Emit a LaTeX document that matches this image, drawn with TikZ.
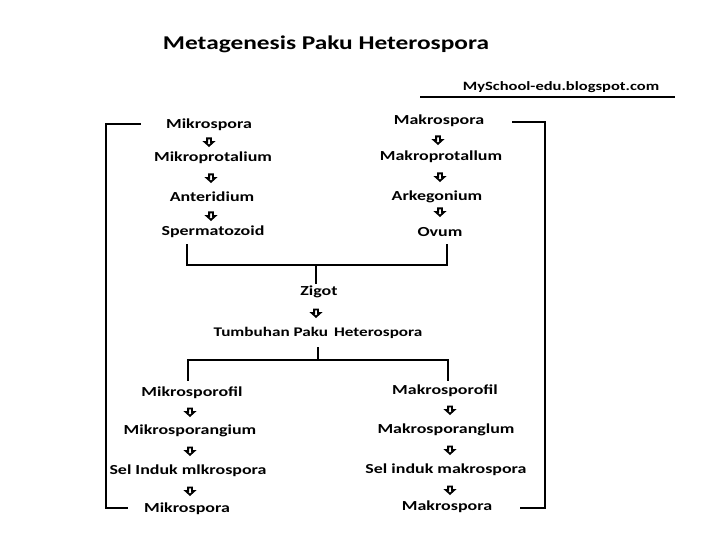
\documentclass[tikz,border=0pt]{standalone}
\usepackage{fontspec}
\setmainfont{Carlito}[FakeStretch=1.3]
\begin{document}
\begin{tikzpicture}[x=1pt,y=-1pt,
  lbl/.style={font=\bfseries\fontsize{13.8}{16}\selectfont, inner sep=0pt, text=black},
  ttl/.style={font=\bfseries\fontsize{19.5}{22}\selectfont, inner sep=0pt},
  web/.style={font=\bfseries\fontsize{12.7}{15}\selectfont, inner sep=0pt},
  frame/.style={line width=2.8pt, line cap=rect},
  link/.style={line width=2.4pt, line cap=rect},
  darrow/.pic={\draw[line width=1.8pt, fill=white, line join=miter]
     (-1.9,-3.6) -- (1.9,-3.6) -- (1.9,0) -- (4.2,0) -- (0,3.8) -- (-4.2,0) -- (-1.9,0) -- cycle;}
]
\useasboundingbox (0,0) rectangle (720,540);
\fill[white] (0,0) rectangle (720,540);

\node[ttl] (title) at (326,44) {Metagenesis Paku Heterospora};
\node[web] (site) at (561,87) {MySchool-edu.blogspot.com};
\coordinate (ul1) at (420,97);
\coordinate (ul2) at (675,97);
\draw[line width=1.8pt] (ul1) -- (ul2);

% upper left column
\node[lbl] (a1) at (209,125) {Mikrospora};
\pic (pa1) at (209,142) {darrow};
\node[lbl] (a2) at (213,158) {Mikroprotalium};
\pic (pa2) at (211,178) {darrow};
\node[lbl] (a3) at (212,197) {Anteridium};
\pic (pa3) at (211,216) {darrow};
\node[lbl] (a4) at (213,232) {Spermatozoid};

% upper right column
\node[lbl] (b1) at (439,121) {Makrospora};
\pic (pb1) at (438,140) {darrow};
\node[lbl] (b2) at (441,157) {Makroprotallum};
\pic (pb2) at (440,177) {darrow};
\node[lbl] (b3) at (437,197) {Arkegonium};
\pic (pb3) at (440,212) {darrow};
\node[lbl] (b4) at (440,232) {Ovum};

% centre
\node[lbl] (z) at (319,292) {Zigot};
\pic (pz) at (316,313) {darrow};
\node[lbl, font=\bfseries\fontsize{13.2}{15}\selectfont] (t) at (318,333) {Tumbuhan Paku\hspace{0.45em}Heterospora};

% lower left column
\node[lbl] (c1) at (192,393) {Mikrosporofil};
\pic (pc1) at (190,412) {darrow};
\node[lbl] (c2) at (190,431) {Mikrosporangium};
\pic (pc2) at (190,451) {darrow};
\node[lbl] (c3) at (188,471) {Sel Induk mlkrospora};
\pic (pc3) at (190,491) {darrow};
\node[lbl] (c4) at (187,509) {Mikrospora};

% lower right column
\node[lbl] (d1) at (445,391) {Makrosporofil};
\pic (pd1) at (450,410) {darrow};
\node[lbl] (d2) at (446,430) {Makrosporanglum};
\pic (pd2) at (450,450) {darrow};
\node[lbl] (d3) at (446,470) {Sel induk makrospora};
\pic (pd3) at (450,490) {darrow};
\node[lbl] (d4) at (447,507) {Makrospora};

% merge connector (upper)
\coordinate (m1) at (187,245);
\coordinate (m2) at (447,245);
\coordinate (my) at (0,265);
\coordinate (zt) at (316,283);
\draw[link] (m1) -- (m1 |- my) -- (m2 |- my) -- (m2);
\draw[link] (zt |- my) -- (zt);

% split connector (lower)
\coordinate (s0) at (318,348);
\coordinate (sy) at (0,360);
\coordinate (s1) at (188,380);
\coordinate (s2) at (448,380);
\draw[link] (s0) -- (s0 |- sy);
\draw[link] (s1) -- (s1 |- sy) -- (s2 |- sy) -- (s2);

% side brackets
\coordinate (lx) at (106,0);
\coordinate (rx) at (545,0);
\coordinate (lt) at (140,124);
\coordinate (lb) at (127,508);
\coordinate (rt) at (513,122);
\coordinate (rb) at (521,508);
\draw[frame] (lt) -- (lt -| lx) -- (lb -| lx) -- (lb);
\draw[frame] (rt) -- (rt -| rx) -- (rb -| rx) -- (rb);
\end{tikzpicture}
\end{document}
